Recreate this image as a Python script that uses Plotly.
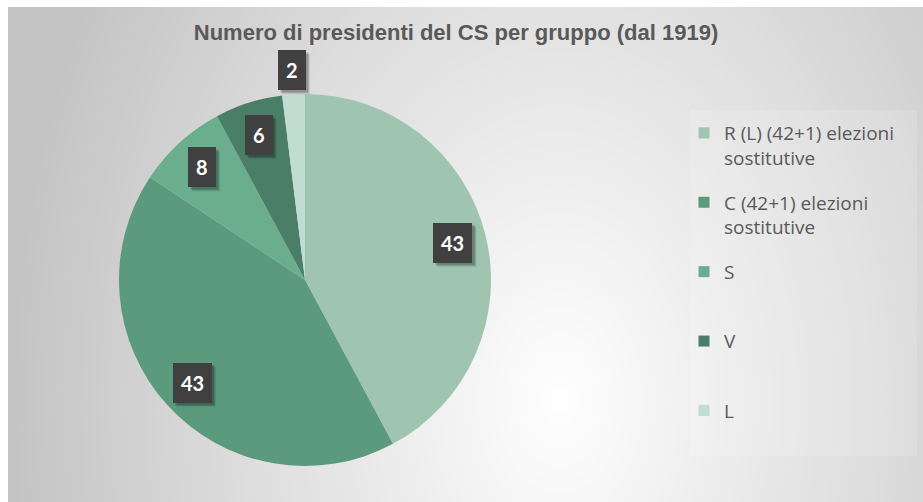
import math
import plotly.graph_objects as go

# ---- data ----
labels = ["R (L) (42+1) elezioni<br>sostitutive", "C (42+1) elezioni<br>sostitutive", "S", "V", "L"]
values = [43, 43, 8, 6, 2]
colors = ["#9fc5b1", "#5b9a7d", "#6aae8e", "#4a7e67", "#c1dcd0"]
title_text = "Numero di presidenti del CS per gruppo (dal 1919)"

W, H = 923, 502
# pie geometry in pixels
cx, cy, R = 305, 280, 186

fig = go.Figure()
fig.add_trace(go.Pie(
    labels=labels,
    values=values,
    marker=dict(colors=colors, line=dict(width=0)),
    sort=False,
    direction="clockwise",
    rotation=0,
    textinfo="none",
    hoverinfo="label+value",
    domain=dict(x=[(cx - R) / W, (cx + R) / W], y=[1 - (cy + R) / H, 1 - (cy - R) / H]),
    showlegend=False,
))

# legend entries (one group per slice so the spacing can be controlled)
for i, (lab, col) in enumerate(zip(labels, colors)):
    name = lab if "<br>" in lab else lab + "<br>\u00a0"
    fig.add_trace(go.Scatter(
        x=[None], y=[None], mode="markers", name=name,
        marker=dict(symbol="square", size=11, color=col),
        legendgroup=f"g{i}", showlegend=True, hoverinfo="skip",
    ))

def px2x(p):
    return p / W

def px2y(p):
    return 1 - p / H

# ---- background: radial gradient approximation (opaque concentric ellipses) ----
shapes = [dict(type="rect", xref="paper", yref="paper", x0=px2x(8), x1=1, y0=0, y1=px2y(7),
               fillcolor="rgb(196,196,196)", line=dict(width=0), layer="below")]
gx, gy, grx, gry, dmax = 560, 400, 480, 700, 1.15
N = 60
for i in range(N):
    d = dmax * (1 - i / N)
    val = int(round(255 - 59 * min(d / dmax, 1.0)))
    rx, ry = grx * d, gry * d
    shapes.append(dict(type="circle", xref="paper", yref="paper",
                       x0=px2x(gx - rx), x1=px2x(gx + rx),
                       y0=px2y(gy + ry), y1=px2y(gy - ry),
                       fillcolor=f"rgb({val},{val},{val})", line=dict(width=0), layer="below"))
# white page strips (left / top)
shapes.append(dict(type="rect", xref="paper", yref="paper", x0=0, x1=px2x(8), y0=0, y1=1,
                   fillcolor="white", line=dict(width=0), layer="below"))
shapes.append(dict(type="rect", xref="paper", yref="paper", x0=0, x1=1, y0=px2y(7), y1=1,
                   fillcolor="white", line=dict(width=0), layer="below"))
# faint legend panel
shapes.append(dict(type="rect", xref="paper", yref="paper", x0=px2x(690), x1=px2x(917),
                   y0=px2y(456), y1=px2y(110),
                   fillcolor="rgba(255,255,255,0.15)", line=dict(width=0), layer="below"))

# ---- data labels ----
total = sum(values)
annotations = []
cum = 0
lab_font = 20
pad = 8
for v in values:
    mid = (cum + v / 2) / total * 2 * math.pi
    cum += v
    frac = 0.82 if v / total > 0.03 else 1.13
    px = cx + frac * R * math.sin(mid)
    py = cy - frac * R * math.cos(mid)
    bw = len(str(v)) * 0.58 * lab_font + 2 * pad
    bh = 1.3 * lab_font + 2 * pad - 2
    for off, a in ((4, 0.10), (3, 0.14), (2, 0.14)):
        shapes.append(dict(type="rect", xref="paper", yref="paper",
                           x0=px2x(px - bw / 2 + off), x1=px2x(px + bw / 2 + off),
                           y0=px2y(py + bh / 2 + off), y1=px2y(py - bh / 2 + off),
                           fillcolor=f"rgba(0,0,0,{a})", line=dict(width=0), layer="above"))
    annotations.append(dict(
        x=px2x(px), y=px2y(py), xref="paper", yref="paper",
        xanchor="center", yanchor="middle",
        text=f"<b>{v}</b>", showarrow=False,
        font=dict(family="Lato", size=lab_font, color="white"),
        bgcolor="#404040", borderwidth=0, borderpad=pad,
    ))

fig.update_layout(
    width=W, height=H,
    margin=dict(l=0, r=0, t=0, b=0),
    paper_bgcolor="white",
    plot_bgcolor="rgba(0,0,0,0)",
    xaxis=dict(visible=False, fixedrange=True),
    yaxis=dict(visible=False, fixedrange=True),
    shapes=shapes,
    annotations=annotations,
    title=dict(text=f"<b>{title_text}</b>", x=px2x(456), xanchor="center",
               y=px2y(32), yanchor="middle", xref="paper", yref="paper",
               font=dict(family="Liberation Sans", size=22, color="#595959")),
    legend=dict(x=px2x(684), y=px2y(114), xanchor="left", yanchor="top",
                valign="top", bgcolor="rgba(0,0,0,0)",
                font=dict(family="Open Sans", size=19, color="#595959"),
                traceorder="grouped", tracegroupgap=17),
)

fig.write_html("out.html")
